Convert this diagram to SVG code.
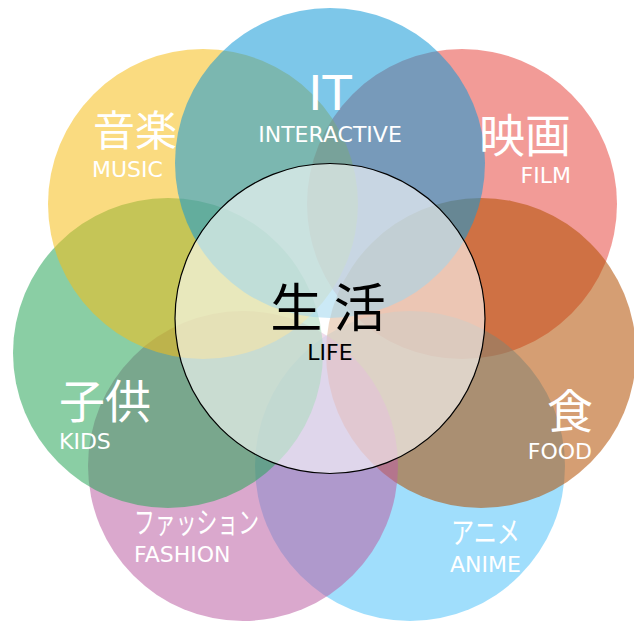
<svg xmlns="http://www.w3.org/2000/svg" width="634" height="622" viewBox="0 0 634 622">
<style>
.c{fill-opacity:0.55}
.j{font-family:"Noto Sans CJK JP","Noto Sans",sans-serif;fill:#fff}
.e{font-family:"DejaVu Sans","Noto Sans",sans-serif;font-size:22px;fill:#fff}
.k{fill:#000}
</style>
<rect width="634" height="622" fill="#fff"/>
<g id="film"><circle class="c" cx="462" cy="204" r="155" fill="#E74942"/></g>
<g id="anime"><circle class="c" cx="410" cy="466" r="155" fill="#52C3F9"/></g>
<g id="food"><circle class="c" cx="481" cy="353" r="155" fill="#B34F00"/></g>
<g id="fashion"><circle class="c" cx="243" cy="466" r="155" fill="#BC61A4"/></g>
<g id="kids"><circle class="c" cx="168" cy="353" r="155" fill="#2AA65A"/></g>
<g id="music"><circle class="c" cx="203" cy="204" r="155" fill="#F6BE18"/></g>
<g id="it"><circle class="c" cx="330" cy="163" r="155" fill="#1399D7"/></g>
<g id="life"><circle cx="330" cy="318.5" r="155" fill="#fff" fill-opacity="0.6" stroke="#000" stroke-width="1.2"/></g>
<g id="labels">
<text class="j" x="93" y="146" font-size="42">音楽</text>
<text class="e" x="92" y="177">MUSIC</text>
<text class="e" x="330" y="110" text-anchor="middle" style="font-size:48px">IT</text>
<text class="e" x="330" y="142" text-anchor="middle">INTERACTIVE</text>
<text class="j" x="571" y="152" font-size="46" text-anchor="end">映画</text>
<text class="e" x="571" y="183" text-anchor="end">FILM</text>
<text class="j" x="59" y="418" font-size="46">子供</text>
<text class="e" x="59" y="449">KIDS</text>
<text class="j" x="593" y="428" font-size="46" text-anchor="end">食</text>
<text class="e" x="592" y="459" text-anchor="end">FOOD</text>
<text class="j" x="134" y="533" font-size="30" textLength="125" lengthAdjust="spacingAndGlyphs">ファッション</text>
<text class="e" x="134" y="562">FASHION</text>
<text class="j" x="451" y="543" font-size="30" textLength="69" lengthAdjust="spacingAndGlyphs">アニメ</text>
<text class="e" x="450" y="572">ANIME</text>
<text class="j k" x="328" y="327" font-size="52" text-anchor="middle">生 活</text>
<text class="e k" x="330" y="360" text-anchor="middle">LIFE</text>
</g>
</svg>
